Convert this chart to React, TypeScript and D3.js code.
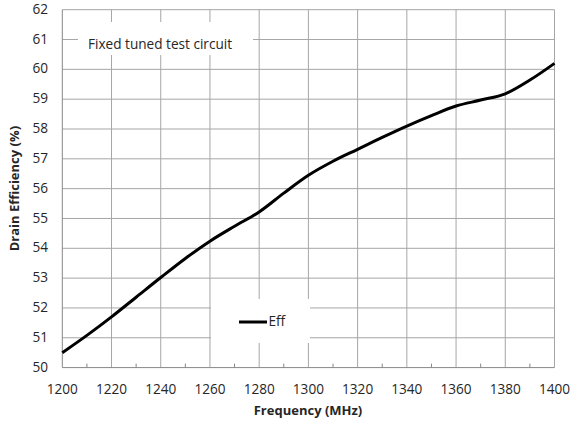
import React from "react";
import * as d3 from "d3";

const freqs = [1200, 1210, 1220, 1230, 1240, 1250, 1260, 1270, 1280, 1290, 1300, 1310, 1320, 1330, 1340, 1350, 1360, 1370, 1380, 1390, 1400];
const eff = [50.5, 51.08, 51.7, 52.36, 53.02, 53.66, 54.24, 54.74, 55.22, 55.85, 56.45, 56.92, 57.32, 57.72, 58.1, 58.45, 58.77, 58.97, 59.18, 59.64, 60.2];
const xTicks = [1200, 1220, 1240, 1260, 1280, 1300, 1320, 1340, 1360, 1380, 1400];
const xMinorTicks = [1210, 1230, 1250, 1270, 1290, 1310, 1330, 1350, 1370, 1390];
const yTicks = [50, 51, 52, 53, 54, 55, 56, 57, 58, 59, 60, 61, 62];
const seriesName = "Eff";
const noteText = "Fixed tuned test circuit";
const xTitle = "Frequency (MHz)";
const yTitle = "Drain Efficiency (%)";

const W = 576;
const H = 425;
const L = 62.3;
const R = 554.5;
const T = 9.7;
const B = 367.6;
const FONT = "'Open Sans', sans-serif";

export default function App() {
  const x = d3.scaleLinear().domain([1200, 1400]).range([L, R]);
  const y = d3.scaleLinear().domain([50, 62]).range([B, T]);
  const line = d3
    .line<number>()
    .x((_, i) => x(freqs[i]))
    .y((d) => y(d))
    .curve(d3.curveCatmullRom.alpha(0.5));
  const path = line(eff) || "";
  const grid = "#a6a6a6";
  const axis = "#868686";
  const txt = "#262626";

  return (
    <svg
      width={W}
      height={H}
      style={{ position: "absolute", left: 0, top: 0, background: "#fff" }}
      fontFamily={FONT}
    >
      <rect x={0} y={0} width={W} height={H} fill="#fff" />
      {yTicks.slice(1).map((t) => (
        <line key={"gy" + t} x1={L} x2={R} y1={y(t)} y2={y(t)} stroke={grid} strokeWidth={1} />
      ))}
      {xTicks.slice(1).map((t) => (
        <line key={"gx" + t} x1={x(t)} x2={x(t)} y1={T} y2={B} stroke={grid} strokeWidth={1} />
      ))}
      {xMinorTicks.map((t) => (
        <line key={"mx" + t} x1={x(t)} x2={x(t)} y1={B} y2={B - 4} stroke={axis} strokeWidth={1} />
      ))}
      <line x1={L} x2={L} y1={T} y2={B} stroke={axis} strokeWidth={1} />
      <line x1={L} x2={R} y1={B} y2={B} stroke={axis} strokeWidth={1} />

      <rect x={78} y={22} width={175} height={33} fill="#fff" />
      <text x={88} y={45} fontSize={13.6} fill={txt} dominantBaseline="middle">
        {noteText}
      </text>

      <rect x={211} y={299} width={99} height={44} fill="#fff" />
      <line x1={239} x2={267} y1={322} y2={322} stroke="#000" strokeWidth={3} />
      <text x={268.5} y={322} fontSize={13.6} fill={txt} dominantBaseline="middle">
        {seriesName}
      </text>

      <path d={path} fill="none" stroke="#000" strokeWidth={3} strokeLinejoin="round" />

      {yTicks.map((t) => (
        <text key={"ly" + t} x={48} y={y(t) + 0.5} fontSize={13.6} fill={txt} textAnchor="end" dominantBaseline="middle">
          {t}
        </text>
      ))}
      {xTicks.map((t) => (
        <text key={"lx" + t} x={x(t)} y={390} fontSize={13.6} fill={txt} textAnchor="middle" dominantBaseline="middle">
          {t}
        </text>
      ))}
      <text x={308} y={412} fontSize={13} fontWeight="bold" fill={txt} textAnchor="middle" dominantBaseline="middle">
        {xTitle}
      </text>
      <text
        transform={`translate(16,${(T + B) / 2}) rotate(-90)`}
        fontSize={13}
        fontWeight="bold"
        fill={txt}
        textAnchor="middle"
        dominantBaseline="middle"
      >
        {yTitle}
      </text>
    </svg>
  );
}
